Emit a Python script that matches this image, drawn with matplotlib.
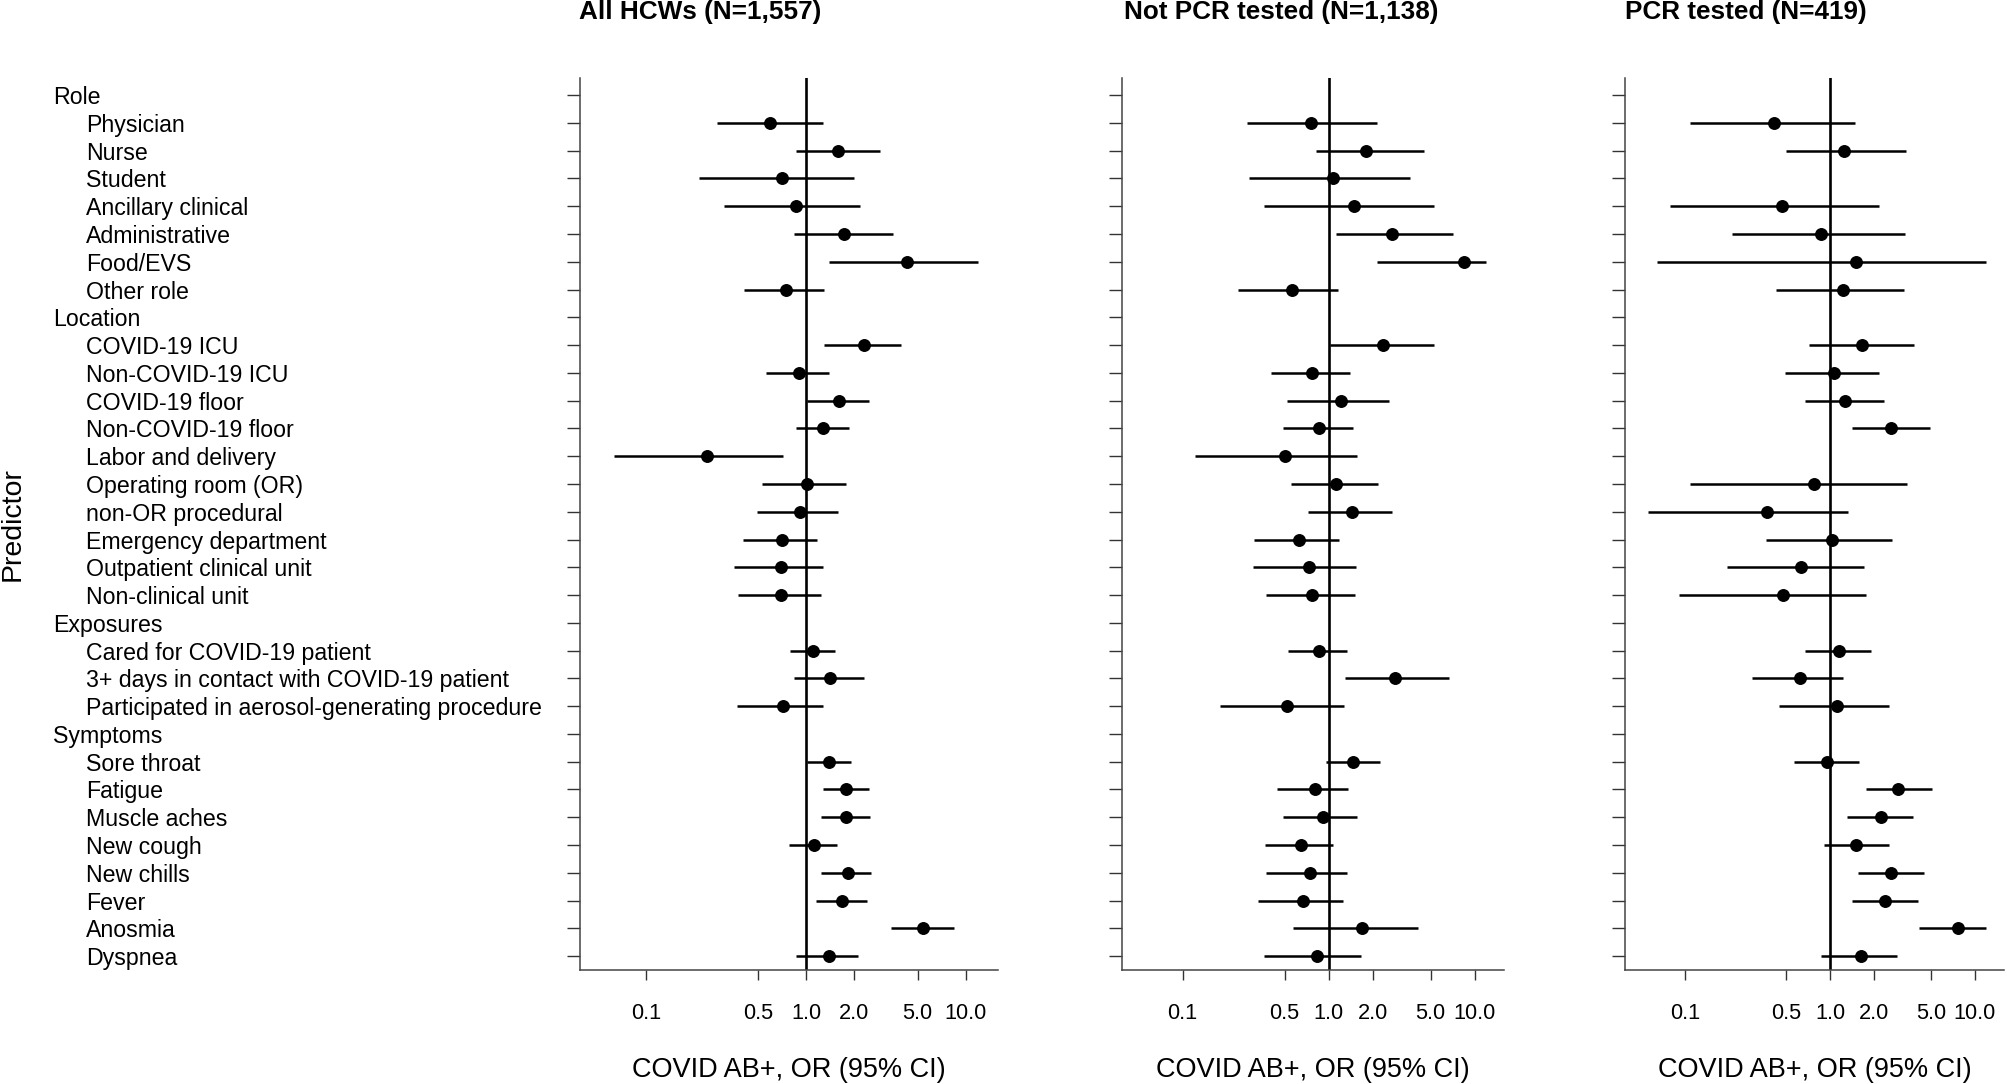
import numpy as np
import matplotlib
matplotlib.use("Agg")
import matplotlib.pyplot as plt
from matplotlib.transforms import blended_transform_factory

plt.rcParams['font.family'] = ['Liberation Sans', 'DejaVu Sans']

# predictor groups and their rows
groups = ["Role", "Location", "Exposures", "Symptoms"]
group_items = [
    ["Physician", "Nurse", "Student", "Ancillary clinical", "Administrative",
     "Food/EVS", "Other role"],
    ["COVID-19 ICU", "Non-COVID-19 ICU", "COVID-19 floor", "Non-COVID-19 floor",
     "Labor and delivery", "Operating room (OR)", "non-OR procedural",
     "Emergency department", "Outpatient clinical unit", "Non-clinical unit"],
    ["Cared for COVID-19 patient", "3+ days in contact with COVID-19 patient",
     "Participated in aerosol-generating procedure"],
    ["Sore throat", "Fatigue", "Muscle aches", "New cough", "New chills",
     "Fever", "Anosmia", "Dyspnea"],
]

titles = ["All HCWs (N=1,557)", "Not PCR tested (N=1,138)", "PCR tested (N=419)"]
nan = np.nan

# All HCWs
or_all = [0.595, 1.58, 0.71, 0.86, 1.74, 4.29, 0.746,
          2.31, 0.90, 1.60, 1.28, 0.241, 1.01, 0.917, 0.71, 0.70, 0.70,
          1.11, 1.41, 0.714,
          1.39, 1.79, 1.79, 1.13, 1.82, 1.68, 5.38, 1.39]
lo_all = [0.277, 0.87, 0.215, 0.305, 0.845, 1.39, 0.407,
          1.30, 0.559, 1.01, 0.86, 0.0633, 0.533, 0.493, 0.401, 0.357, 0.377,
          0.794, 0.837, 0.37,
          1.01, 1.27, 1.24, 0.779, 1.24, 1.16, 3.38, 0.87]
hi_all = [1.27, 2.91, 1.99, 2.18, 3.51, 12.0, 1.29,
          3.94, 1.39, 2.48, 1.86, 0.714, 1.77, 1.59, 1.17, 1.27, 1.25,
          1.53, 2.32, 1.27,
          1.92, 2.48, 2.52, 1.56, 2.55, 2.40, 8.41, 2.12]

# Not PCR tested
or_npcr = [0.761, 1.81, 1.065, 1.50, 2.70, 8.41, 0.564,
           2.36, 0.773, 1.21, 0.859, 0.50, 1.13, 1.45, 0.626, 0.733, 0.773,
           0.859, 2.85, 0.521,
           1.48, 0.806, 0.91, 0.65, 0.745, 0.671, 1.70, 0.828]
lo_npcr = [0.276, 0.819, 0.286, 0.359, 1.12, 2.15, 0.241,
           1.02, 0.405, 0.518, 0.484, 0.122, 0.555, 0.722, 0.308, 0.303, 0.372,
           0.529, 1.29, 0.179,
           0.964, 0.443, 0.484, 0.366, 0.372, 0.33, 0.567, 0.36]
hi_npcr = [2.14, 4.52, 3.61, 5.29, 7.11, 12.0, 1.16,
           5.29, 1.41, 2.59, 1.48, 1.56, 2.18, 2.73, 1.18, 1.54, 1.51,
           1.34, 6.64, 1.27,
           2.26, 1.36, 1.56, 1.08, 1.34, 1.25, 4.07, 1.67]

# PCR tested
or_pcr = [0.413, 1.25, nan, 0.464, 0.872, 1.52, 1.23,
          1.66, 1.06, 1.27, 2.65, nan, 0.773, 0.365, 1.04, 0.636, 0.471,
          1.15, 0.617, 1.12,
          0.949, 2.95, 2.24, 1.52, 2.65, 2.39, 7.69, 1.63]
lo_pcr = [0.1076, 0.50, nan, 0.0789, 0.212, 0.064, 0.427,
          0.718, 0.489, 0.671, 1.42, nan, 0.1076, 0.0558, 0.359, 0.195, 0.0905,
          0.671, 0.29, 0.447,
          0.561, 1.76, 1.32, 0.905, 1.55, 1.42, 4.11, 0.872]
hi_pcr = [1.48, 3.35, nan, 2.17, 3.30, 11.96, 3.23,
          3.78, 2.17, 2.36, 4.89, nan, 3.40, 1.33, 2.67, 1.73, 1.76,
          1.91, 1.24, 2.54,
          1.58, 5.05, 3.72, 2.54, 4.43, 4.05, 11.96, 2.91]

xticks = [0.1, 0.5, 1.0, 2.0, 5.0, 10.0]
xticklabels = ["0.1", "0.5", "1.0", "2.0", "5.0", "10.0"]

# row positions: header rows and item rows, top to bottom
row_labels, row_is_header, item_rows = [], [], []
r = 0
for g, items in zip(groups, group_items):
    row_labels.append(g); row_is_header.append(True); r += 1
    for it in items:
        row_labels.append(it); row_is_header.append(False)
        item_rows.append(r); r += 1
n_rows = r
item_rows = np.array(item_rows)

fig = plt.figure(figsize=(20.08, 10.84), dpi=100)
bottom, height = 0.1052, 0.8229
boxes = [(0.2888, 0.2082), (0.5588, 0.1902), (0.8093, 0.1887)]
panels = [(or_all, lo_all, hi_all), (or_npcr, lo_npcr, hi_npcr),
          (or_pcr, lo_pcr, hi_pcr)]
title_x = [0.3489, 0.6378, 0.8693]

axes = []
for (left, w), (est, lo, hi), tt, tx in zip(boxes, panels, titles, title_x):
    ax = fig.add_axes([left, bottom, w, height])
    est, lo, hi = np.array(est), np.array(lo), np.array(hi)
    ok = ~np.isnan(est)
    ax.axvline(1.0, color='black', lw=1.9, zorder=1)
    ax.hlines(item_rows[ok], lo[ok], hi[ok], color='black', lw=1.8, zorder=2)
    ax.plot(est[ok], item_rows[ok], 'o', color='black', ms=8.3, zorder=3)
    ax.set_xscale('log')
    ax.set_xlim(0.0385, 15.9)
    ax.set_ylim(n_rows - 1 + 0.5, -0.62)
    ax.set_xticks(xticks)
    ax.set_xticklabels(xticklabels, fontsize=15.7)
    ax.xaxis.set_minor_locator(matplotlib.ticker.NullLocator())
    ax.set_yticks(np.arange(n_rows))
    ax.set_yticklabels([])
    ax.tick_params(axis='x', length=7.5, width=1.0, pad=16, color='#333333')
    ax.tick_params(axis='y', length=9.5, width=1.0, color='#333333')
    for s in ['top', 'right']:
        ax.spines[s].set_visible(False)
    for s in ['left', 'bottom']:
        ax.spines[s].set_color('#444444')
        ax.spines[s].set_linewidth(1.1)
    ax.text(0.5, 7 / 1084, "COVID AB+, OR (95% CI)", fontsize=19.5,
            ha='center', va='baseline',
            transform=blended_transform_factory(ax.transAxes, fig.transFigure))
    fig.text(tx, 1 - 19 / 1084, tt, fontsize=18.8, fontweight='bold',
             ha='center', va='baseline')
    axes.append(ax)

# predictor names on the far left
tr = blended_transform_factory(fig.transFigure, axes[0].transData)
for i, (lab, hd) in enumerate(zip(row_labels, row_is_header)):
    x = 53.5 / 2008 if hd else 86 / 2008
    axes[0].text(x, i, lab, fontsize=16.7, ha='left', va='center_baseline',
                 transform=tr)

fig.text(13 / 2008, bottom + height / 2, "Predictor", fontsize=20.5,
         rotation=90, ha='center', va='center')

fig.savefig("out.png", dpi=100)
